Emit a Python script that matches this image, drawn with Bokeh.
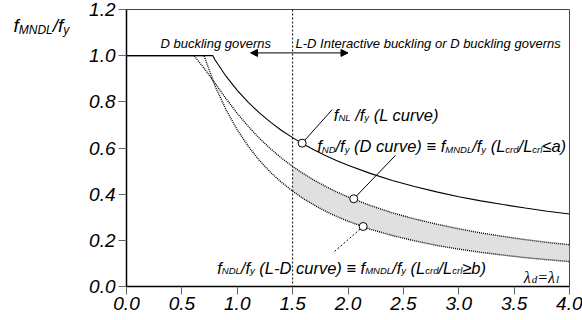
from bokeh.plotting import figure
from bokeh.layouts import row
from bokeh.models import Range1d, FixedTicker, PrintfTickFormatter, Label, Span, Arrow, NormalHead
from bokeh.embed import file_html
from bokeh.resources import INLINE

# ---------------- data ----------------
lam_tail = [0.8, 0.9, 1.0, 1.1, 1.2, 1.3, 1.4, 1.5, 1.6, 1.7, 1.8, 1.9, 2.0,
            2.2, 2.4, 2.6, 2.8, 3.0, 3.2, 3.4, 3.6, 3.8, 4.0]
L_head_x = [0.0, 0.78]
L_head_y = [1.0, 1.0]
L_tail = [0.981, 0.910, 0.850, 0.798, 0.752, 0.712, 0.676, 0.645, 0.616, 0.590, 0.566, 0.545, 0.525,
          0.490, 0.459, 0.433, 0.410, 0.389, 0.371, 0.355, 0.340, 0.326, 0.314]
D_head_x = [0.0, 0.61, 0.70]
D_head_y = [1.0, 1.0, 0.946]
D_tail = [0.880, 0.813, 0.750, 0.693, 0.642, 0.597, 0.556, 0.520, 0.488, 0.459, 0.433, 0.409, 0.388,
          0.351, 0.319, 0.293, 0.270, 0.250, 0.232, 0.217, 0.203, 0.191, 0.181]
LD_head_x = [0.0, 0.70]
LD_head_y = [1.0, 1.0]
LD_tail = [0.868, 0.765, 0.679, 0.607, 0.546, 0.495, 0.451, 0.413, 0.380, 0.351, 0.325, 0.303, 0.283,
           0.248, 0.221, 0.198, 0.178, 0.162, 0.148, 0.136, 0.125, 0.116, 0.108]
band_start = 1.5
boundary_x = 1.5
mark_x = [1.586, 2.052, 2.137]
mark_y = [0.621, 0.380, 0.260]
x_ticks = [0.0, 0.5, 1.0, 1.5, 2.0, 2.5, 3.0, 3.5, 4.0]
y_ticks = [0.0, 0.2, 0.4, 0.6, 0.8, 1.0, 1.2]

SANS = "Liberation Sans"
SERIF = "Liberation Serif"
TW = 75  # width of the strip that holds the y-axis title

# title strip (pixel coordinates)
tfig = figure(width=TW, height=320, output_backend="svg", toolbar_location=None,
              x_range=Range1d(0, TW), y_range=Range1d(0, 320),
              x_axis_type=None, y_axis_type=None,
              min_border_left=0, min_border_right=0, min_border_top=0, min_border_bottom=0)
tfig.outline_line_color = None
tfig.grid.visible = False
tfig.background_fill_color = "white"
tfig.border_fill_color = "white"

p = figure(width=582 - TW, height=320, output_backend="svg", toolbar_location=None,
           x_range=Range1d(0, 4), y_range=Range1d(0, 1.2),
           min_border_left=126 - TW, min_border_right=13, min_border_top=9, min_border_bottom=34)
p.background_fill_color = "white"
p.border_fill_color = "white"
p.outline_line_color = "#444444"
p.outline_line_width = 1
p.grid.visible = False

for ax, ticks in ((p.xaxis, x_ticks), (p.yaxis, y_ticks)):
    ax.ticker = FixedTicker(ticks=ticks)
    ax.formatter = PrintfTickFormatter(format="%.1f")
    ax.minor_tick_line_color = None
    ax.major_tick_line_color = "#666666"
    ax.major_tick_line_width = 1
    ax.major_tick_out = 8
    ax.major_tick_in = 0
    ax.axis_line_color = "black"
    ax.axis_line_width = 1.5
    ax.major_label_text_font = SANS
    ax.major_label_text_font_style = "italic"
    ax.major_label_text_font_size = "19px"
    ax.major_label_text_color = "black"
p.xaxis.major_label_standoff = 2
p.yaxis.major_label_standoff = 3

# shaded band between D and L-D curves
idx = [i for i, v in enumerate(lam_tail) if v >= band_start]
p.varea(x=[lam_tail[i] for i in idx], y1=[LD_tail[i] for i in idx], y2=[D_tail[i] for i in idx],
        fill_color="#e0e0e0")

p.line(L_head_x + lam_tail, L_head_y + L_tail, line_color="black", line_width=1.1)
p.line(D_head_x + lam_tail, D_head_y + D_tail, line_color="black", line_width=1.4, line_dash="1 1")
p.line(LD_head_x + lam_tail, LD_head_y + LD_tail, line_color="black", line_width=1.4, line_dash="1 1")

p.add_layout(Span(location=boundary_x, dimension="height", line_color="black",
                  line_width=1, line_dash="2 2"))

# leader lines
leaders = [((mark_x[0], mark_y[0]), (1.857, 0.766), None),
           ((mark_x[1], mark_y[1]), (2.429, 0.568), None),
           ((mark_x[2], mark_y[2]), (1.872, 0.149), "2 2")]
for (x0, y0), (x1, y1), dash in leaders:
    kw = dict(line_color="black", line_width=1)
    if dash:
        kw["line_dash"] = dash
    p.segment(x0=[x0], y0=[y0], x1=[x1], y1=[y1], **kw)

p.scatter(mark_x, mark_y, size=8, fill_color="white", line_color="black", line_width=1)

# double arrow
p.add_layout(Arrow(x_start=1.5, y_start=1.012, x_end=1.12, y_end=1.012,
                   end=NormalHead(size=7, fill_color="black", line_color="black"),
                   line_color="black", line_width=1))
p.add_layout(Arrow(x_start=1.5, y_start=1.012, x_end=2.0, y_end=1.012,
                   end=NormalHead(size=7, fill_color="black", line_color="black"),
                   line_color="black", line_width=1))

# rich text helper (main text + subscripts)
W = {' ': .278, '(': .333, ')': .333, '-': .333, '.': .278, '/': .278, '=': .584, '≡': .584,
     '≤': .549, '≥': .549, 'A': .667, 'C': .722, 'D': .722, 'I': .278, 'L': .556, 'M': .833,
     'N': .722, 'a': .556, 'b': .556, 'c': .5, 'd': .556, 'e': .556, 'f': .278, 'g': .556,
     'i': .222, 'k': .5, 'l': .222, 'n': .556, 'o': .556, 'r': .333, 's': .5, 't': .278,
     'u': .556, 'v': .5, 'y': .5}
WS = {'λ': .5, 'd': .5, 'l': .278, '=': .675, ' ': .25}


def rich(fig, x, y, segs, size, sub_size, sub_dy, font=SANS, widths=W):
    off = 0.0
    for txt, sub in segs:
        fs = sub_size if sub else size
        lead = len(txt) - len(txt.lstrip(" "))
        off += lead * widths[' '] * fs
        core = txt.strip(" ")
        fig.add_layout(Label(x=x, y=y, x_offset=off, y_offset=(-sub_dy if sub else 0), text=core,
                             text_font=font, text_font_style="italic", text_font_size=f"{fs}px",
                             text_baseline="alphabetic", text_align="left", text_color="black"))
        off += sum(widths.get(c, .55) for c in txt.lstrip(" ")) * fs


rich(tfig, 13, 301, [("f", 0), ("MNDL", 1), ("/f", 0), ("y", 1)], 19, 12, 4)
rich(p, 1.872, 0.744, [("f", 0), ("NL", 1), (" /f", 0), ("y", 1), (" (L curve)", 0)], 16.5, 9.5, 3)
rich(p, 1.722, 0.607, [("f", 0), ("ND", 1), ("/f", 0), ("y", 1), (" (D curve) ≡ f", 0), ("MNDL", 1),
                       ("/f", 0), ("y", 1), (" (L", 0), ("crd", 1), ("/L", 0), ("crl", 1), ("≤a)", 0)],
     16.5, 9.5, 3)
rich(p, 0.819, 0.082, [("f", 0), ("NDL", 1), ("/f", 0), ("y", 1), (" (L-D curve) ≡ f", 0), ("MNDL", 1),
                       ("/f", 0), ("y", 1), (" (L", 0), ("crd", 1), ("/L", 0), ("crl", 1), ("≥b)", 0)],
     16.5, 9.5, 3)
rich(p, 3.587, 0.039, [("λ", 0), ("d", 1), ("=λ", 0), ("l", 1)], 16, 11, 2, font=SERIF, widths=WS)

p.add_layout(Label(x=0.307, y=1.054, text="D buckling governs", text_font=SANS,
                   text_font_style="italic", text_font_size="13px", text_baseline="middle",
                   text_align="left", text_color="black"))
p.add_layout(Label(x=1.526, y=1.054, text="L-D Interactive buckling or D buckling governs",
                   text_font=SANS, text_font_style="italic", text_font_size="13px",
                   text_baseline="middle", text_align="left", text_color="black"))

layout = row(tfig, p)
open("out.html", "w").write(file_html(layout, INLINE))
